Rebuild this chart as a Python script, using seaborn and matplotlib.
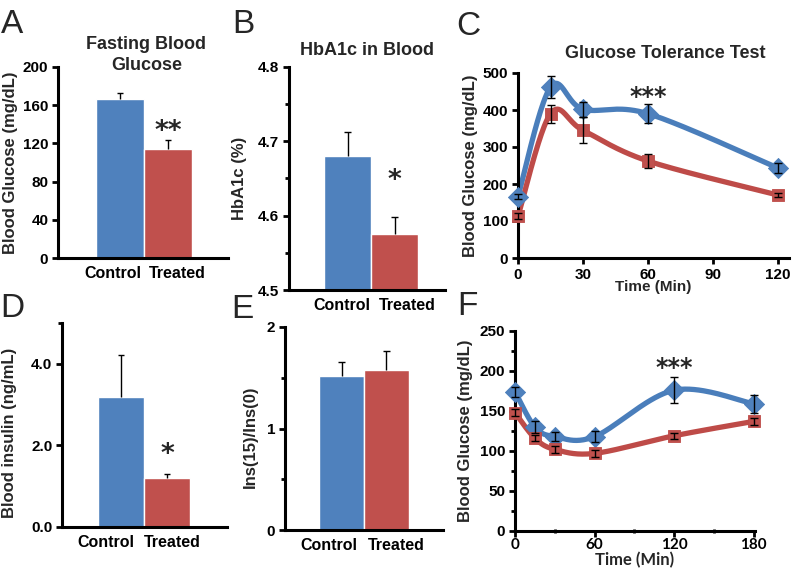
import numpy as np
import matplotlib
matplotlib.use('Agg')
import matplotlib.pyplot as plt
from matplotlib.ticker import MultipleLocator, FormatStrFormatter
import seaborn as sns

# ---- data ----
groups = ['Control', 'Treated']

fbg_mean = [166, 114]
fbg_err = [7, 10]

hba1c_mean = [4.68, 4.575]
hba1c_err = [0.033, 0.023]

insulin_mean = [3.18, 1.2]
insulin_err = [1.03, 0.11]

ratio_mean = [1.52, 1.58]
ratio_err = [0.14, 0.18]

gtt_time = [0, 15, 30, 60, 120]
gtt_control = [166, 462, 402, 390, 243]
gtt_control_err = [6, 30, 20, 25, 14]
gtt_treated = [113, 390, 345, 262, 170]
gtt_treated_err = [8, 24, 35, 18, 5]

itt_time = [0, 15, 30, 60, 120, 180]
itt_control = [174, 130, 118, 118, 176, 159]
itt_control_err = [6, 8, 6, 7, 16, 11]
itt_treated = [148, 116, 102, 97, 119, 137]
itt_treated_err = [4, 4, 4, 4, 4, 4]

BLUE = '#4F81BD'
RED = '#C0504D'
LBLUE = '#4A7EBB'
LRED = '#BE4B48'

sns.set_style('ticks')
plt.rcParams['font.family'] = ['Liberation Sans', 'DejaVu Sans']
plt.rcParams['font.weight'] = 'bold'


def smooth(xs, ys, sx, sy, n=40):
    # Excel-style smoothed line (bezier, 1/6 tension) in screen scale
    P = np.column_stack([np.asarray(xs, float) * sx, np.asarray(ys, float) * sy])
    out = []
    for i in range(len(P) - 1):
        p0 = P[i - 1] if i > 0 else P[i]
        p1, p2 = P[i], P[i + 1]
        p3 = P[i + 2] if i + 2 < len(P) else P[i + 1]
        c1 = p1 + (p2 - p0) / 6
        c2 = p2 - (p3 - p1) / 6
        t = np.linspace(0, 1, n)[:, None]
        seg = (1 - t) ** 3 * p1 + 3 * (1 - t) ** 2 * t * c1 + 3 * (1 - t) * t ** 2 * c2 + t ** 3 * p2
        out.append(seg if i == 0 else seg[1:])
    pts = np.vstack(out)
    return pts[:, 0] / sx, pts[:, 1] / sy


def style_axis(ax):
    sns.despine(ax=ax)
    for s in ['left', 'bottom']:
        ax.spines[s].set_linewidth(2.2)
        ax.spines[s].set_color('black')
    ax.tick_params(axis='both', which='both', width=2, colors='black', labelsize=11)
    ax.tick_params(axis='y', which='major', length=4, pad=3)
    ax.tick_params(axis='y', which='minor', length=3)


def bar_panel(ax, means, errs, ylim, xlim, label_pos):
    sns.barplot(x=groups, y=means, hue=groups, palette=[BLUE, RED], width=1,
                legend=False, ax=ax, saturation=1)
    tops = [m + e for m, e in zip(means, errs)]
    # one-sided (upper) error bars, cap only at the top
    ax.vlines([0, 1], means, tops, color='black', lw=1)
    ax.hlines(tops, [-0.07, 0.93], [0.07, 1.07], color='black', lw=1)
    ax.set_ylim(*ylim)
    ax.set_xlim(*xlim)
    ax.set_xticks(label_pos)
    ax.set_xticklabels(groups, fontsize=11.5, fontweight='bold')
    style_axis(ax)
    ax.tick_params(axis='x', length=0, pad=6, labelsize=11.5)


fig = plt.figure(figsize=(7.96, 5.72), dpi=100)
W, H = 796, 572


def add_ax(l, r, t, b):
    return fig.add_axes([l / W, 1 - b / H, (r - l) / W, (b - t) / H])


axA = add_ax(58, 228, 67, 258)
axB = add_ax(289, 445, 67, 290)
axC = add_ax(518, 789, 73, 258)
axD = add_ax(62, 227, 323, 527)
axE = add_ax(285, 443, 327, 530)
axF = add_ax(515, 755, 331, 531)

# A
bar_panel(axA, fbg_mean, fbg_err, (0, 200), (-1.29, 2.25), [-0.15, 1.19])
axA.yaxis.set_major_locator(MultipleLocator(40))
axA.set_ylabel('Blood Glucose (mg/dL)', fontsize=12, fontweight='bold')
axA.yaxis.set_label_coords(-0.235, 0.5)
axA.text(0.52, 1.16, 'Fasting Blood\nGlucose', transform=axA.transAxes, ha='center',
         va='top', fontsize=13, fontweight='bold', linespacing=1.25)
axA.text(1, 132, '**', ha='center', va='center', fontsize=19, fontweight='bold',
         family='DejaVu Sans')

# B
bar_panel(axB, hba1c_mean, hba1c_err, (4.5, 4.8), (-1.245, 2.07), [-0.12, 1.27])
axB.yaxis.set_major_locator(MultipleLocator(0.1))
axB.yaxis.set_minor_locator(MultipleLocator(0.05))
axB.yaxis.set_major_formatter(FormatStrFormatter('%.1f'))
axB.set_ylabel('HbA1c (%)', fontsize=12, fontweight='bold')
axB.yaxis.set_label_coords(-0.269, 0.5)
axB.text(0.5, 1.112, 'HbA1c in Blood', transform=axB.transAxes, ha='center',
         va='top', fontsize=13, fontweight='bold')
axB.text(1, 4.647, '*', ha='center', va='center', fontsize=19, fontweight='bold',
         family='DejaVu Sans')

# D
bar_panel(axD, insulin_mean, insulin_err, (0, 5), (-1.28, 2.30), [-0.33, 1.11])
axD.set_yticks([0, 2, 4])
axD.yaxis.set_minor_locator(plt.FixedLocator([5]))
axD.yaxis.set_major_formatter(FormatStrFormatter('%.1f'))
axD.set_ylabel('Blood insulin (ng/mL)', fontsize=12, fontweight='bold')
axD.yaxis.set_label_coords(-0.273, 0.46)
axD.text(1, 1.76, '*', ha='center', va='center', fontsize=19, fontweight='bold',
         family='DejaVu Sans')

# E
bar_panel(axE, ratio_mean, ratio_err, (0, 2), (-1.26, 2.26), [-0.28, 1.21])
axE.yaxis.set_major_locator(MultipleLocator(1))
axE.yaxis.set_minor_locator(MultipleLocator(0.5))
axE.set_ylabel('Ins(15)/Ins(0)', fontsize=12, fontweight='bold')
axE.yaxis.set_label_coords(-0.171, 0.46)


def line_panel(ax, t, ctl, ctl_err, trt, trt_err, xlim, ylim, sx, sy):
    for ys, es, lc, mc, mk, ms in [(ctl, ctl_err, LBLUE, BLUE, 'D', 105),
                                   (trt, trt_err, LRED, RED, 's', 85)]:
        cx, cy = smooth(t, ys, sx, sy)
        sns.lineplot(x=cx, y=cy, sort=False, estimator=None, color=lc, lw=3.8,
                     ax=ax, zorder=2)
        ax.errorbar(t, ys, yerr=es, fmt='none', ecolor='black', elinewidth=1,
                    capsize=3, capthick=1, zorder=4, clip_on=False)
        sns.scatterplot(x=t, y=ys, marker=mk, s=ms, color=mc, edgecolor=lc,
                        linewidth=0.6, ax=ax, zorder=3, clip_on=False)
    ax.set_xlim(*xlim)
    ax.set_ylim(*ylim)
    style_axis(ax)
    ax.tick_params(axis='x', which='major', length=4, pad=3)


# C
line_panel(axC, gtt_time, gtt_control, gtt_control_err, gtt_treated, gtt_treated_err,
           (0, 125), (0, 500), 271 / 125, 185 / 500)
axC.set_xticks([0, 30, 60, 90, 120])
axC.yaxis.set_major_locator(MultipleLocator(100))
axC.set_xlabel('Time (Min)', fontsize=11, fontweight='bold', labelpad=-1)
axC.set_ylabel('Blood Glucose (mg/dL)', fontsize=12, fontweight='bold')
axC.yaxis.set_label_coords(-0.148, 0.5)
axC.text(0.542, 1.151, 'Glucose Tolerance Test', transform=axC.transAxes, ha='center',
         va='top', fontsize=13, fontweight='bold')
axC.text(60, 435, '***', ha='center', va='center', fontsize=17, fontweight='bold',
         family='DejaVu Sans')

# F
line_panel(axF, itt_time, itt_control, itt_control_err, itt_treated, itt_treated_err,
           (0, 181), (0, 250), 240 / 181, 200 / 250)
axF.set_xticks([0, 60, 120, 180])
axF.xaxis.set_minor_locator(MultipleLocator(30))
axF.yaxis.set_major_locator(MultipleLocator(50))
axF.yaxis.set_minor_locator(MultipleLocator(25))
axF.tick_params(axis='x', which='minor', length=3, direction='inout')
axF.tick_params(axis='x', which='major', pad=1)
for lab in axF.get_xticklabels():
    lab.set_family('Lato')
    lab.set_fontweight('bold')
axF.set_xlabel('Time (Min)', fontsize=12, fontweight='bold', family='Lato', labelpad=0)
axF.set_ylabel('Blood Glucose (mg/dL)', fontsize=12, fontweight='bold')
axF.yaxis.set_label_coords(-0.175, 0.5)
axF.text(120, 204, '***', ha='center', va='center', fontsize=17, fontweight='bold',
         family='DejaVu Sans')

# panel letters
for letter, x, y in [('A', 1, 33), ('B', 232, 33), ('C', 456, 35),
                     ('D', 0, 317), ('E', 231, 318), ('F', 457, 315)]:
    fig.text(x / W, 1 - y / H, letter, fontsize=24, fontweight='normal',
             ha='left', va='baseline')

fig.savefig('out.png', dpi=100, facecolor='white')
